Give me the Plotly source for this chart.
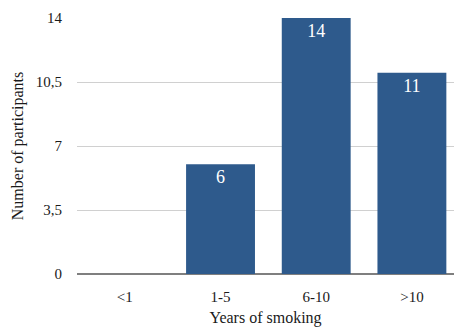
import plotly.graph_objects as go

categories = ["<1", "1-5", "6-10", ">10"]
participants = [0, 6, 14, 11]
y_ticks = [0, 3.5, 7, 10.5, 14]
y_tick_labels = ["0", "3,5", "7", "10,5", "14"]

font_family = "Liberation Serif, Times New Roman, serif"
bar_color = "#2E5A8C"
text_color = "#1a1a1a"

fig = go.Figure(
    go.Bar(
        x=categories,
        y=participants,
        marker=dict(color=bar_color, line=dict(width=0)),
        text=[str(v) if v else "" for v in participants],
        textposition="inside",
        insidetextanchor="end",
        textfont=dict(family=font_family, size=18, color="white"),
        cliponaxis=False,
    )
)

fig.update_layout(
    width=455,
    height=327,
    margin=dict(l=77, r=1, t=18, b=53),
    paper_bgcolor="white",
    plot_bgcolor="white",
    bargap=0.28,
    showlegend=False,
    font=dict(family=font_family, size=15, color=text_color),
    xaxis=dict(
        type="category",
        range=[-0.5, 3.44],
        showgrid=False,
        showline=False,
        zeroline=False,
        ticks="",
        ticklabelstandoff=12,
        tickfont=dict(family=font_family, size=15, color=text_color),
        title=dict(text="Years of smoking", standoff=8,
                   font=dict(family=font_family, size=16, color=text_color)),
    ),
    yaxis=dict(
        range=[0, 14],
        tickvals=y_ticks,
        ticktext=y_tick_labels,
        showgrid=True,
        gridcolor="#d0d0d0",
        gridwidth=1,
        zeroline=True,
        zerolinecolor="#7f7f7f",
        zerolinewidth=1.5,
        showline=False,
        ticks="",
        ticklabelstandoff=14,
        tickfont=dict(family=font_family, size=15, color=text_color),
        title=dict(text="Number of participants", standoff=8,
                   font=dict(family=font_family, size=16, color=text_color)),
    ),
)

fig.write_html("out.html")
